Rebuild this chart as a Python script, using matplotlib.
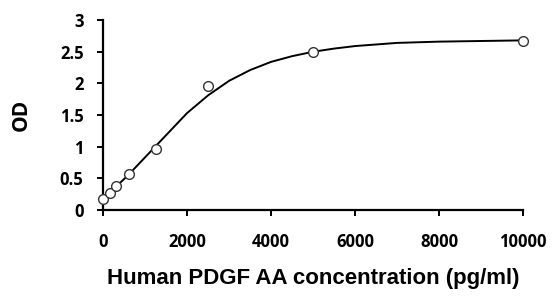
import matplotlib
matplotlib.use("Agg")
import matplotlib.pyplot as plt

# standard points (concentration pg/ml, OD)
conc = [0, 156, 312.5, 625, 1250, 2500, 5000, 10000]
od = [0.17, 0.27, 0.37, 0.57, 0.97, 1.96, 2.49, 2.67]

# fitted curve
fit_x = [0, 300, 600, 1000, 1500, 2000, 2500, 3000, 3500, 4000, 4500,
         5000, 5500, 6000, 7000, 8000, 9000, 10000]
fit_y = [0.18, 0.36, 0.55, 0.83, 1.18, 1.53, 1.81, 2.04, 2.21, 2.34, 2.43,
         2.50, 2.55, 2.59, 2.64, 2.66, 2.67, 2.68]

x_ticks = [0, 2000, 4000, 6000, 8000, 10000]
y_ticks = [0, 0.5, 1, 1.5, 2, 2.5, 3]
y_tick_labels = ["0", "0.5", "1", "1.5", "2", "2.5", "3"]

plt.rcParams["font.family"] = ["Open Sans", "DejaVu Sans"]

fig = plt.figure(figsize=(5.55, 2.96), dpi=100)
ax = fig.add_axes([0.1856, 0.291, 0.757, 0.641])

ax.plot(fit_x, fit_y, color="black", lw=1.4, zorder=2)
ax.plot(conc, od, ls="none", marker="o", ms=7, mfc="white",
        mec="#333333", mew=1.0, zorder=3, clip_on=False)

ax.set_xlim(0, 10000)
ax.set_ylim(0, 3)
ax.set_xticks(x_ticks)
ax.set_xticklabels([str(v) for v in x_ticks])
ax.set_yticks(y_ticks)
ax.set_yticklabels(y_tick_labels)

for s in ("top", "right"):
    ax.spines[s].set_visible(False)
for s in ("left", "bottom"):
    ax.spines[s].set_linewidth(1.6)
ax.tick_params(width=1.4, length=4, labelsize=12)
ax.tick_params(axis="y", pad=10)
ax.tick_params(axis="x", pad=13)
for lab in ax.get_xticklabels() + ax.get_yticklabels():
    lab.set_fontweight("bold")

ax.set_xlabel("Human PDGF AA concentration (pg/ml)", fontsize=16,
              fontweight="bold", family="Liberation Sans", labelpad=12)
ax.set_ylabel("OD", fontsize=15, fontweight="bold", labelpad=20)

fig.savefig("out.png", dpi=100)
